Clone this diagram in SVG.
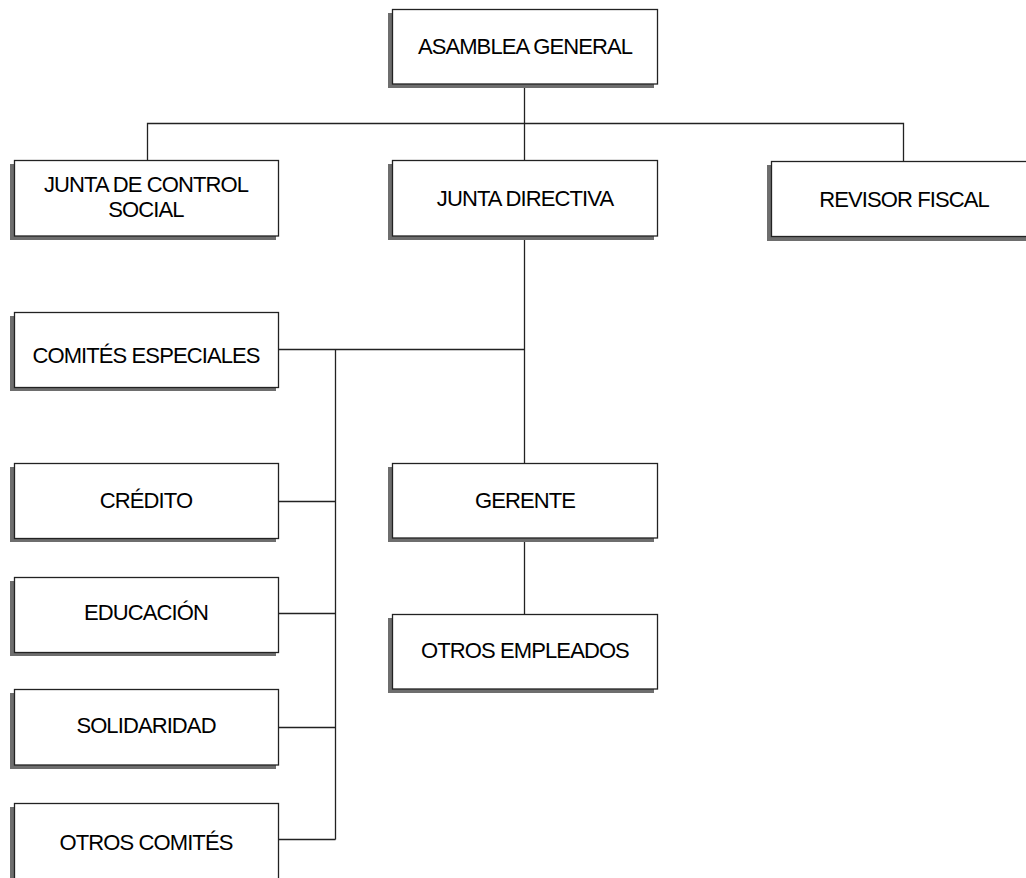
<svg xmlns="http://www.w3.org/2000/svg" width="1026" height="878" viewBox="0 0 1026 878">
<defs>
<style>
.sh{fill:#6e6e6e;}
.bx{fill:#fff;stroke:#222;stroke-width:1.3;}
.t{font-family:"Liberation Sans",Arial,sans-serif;font-size:22px;letter-spacing:-0.9px;fill:#000;text-anchor:middle;}
.c{fill:none;stroke:#222;stroke-width:1.3;}
</style>
</defs>
<rect width="1026" height="878" fill="#fff"/>
<g id="connectors">
<path class="c" d="M524.5,84 V160"/>
<path class="c" d="M147.5,160 V123.5 H903.5 V161"/>
<path class="c" d="M524.5,236 V463"/>
<path class="c" d="M278,349.5 H524.5"/>
<path class="c" d="M335.5,349.5 V839.5"/>
<path class="c" d="M278,501.5 H335.5"/>
<path class="c" d="M278,613.5 H335.5"/>
<path class="c" d="M278,727.5 H335.5"/>
<path class="c" d="M278,839.5 H335.5"/>
<path class="c" d="M524.5,538 V614"/>
</g>
<g id="asamblea">
<rect class="sh" x="388" y="13" width="266" height="75"/>
<rect class="bx" x="392.5" y="9.5" width="265" height="74.5"/>
<text class="t" x="525" y="54">ASAMBLEA GENERAL</text>
</g>
<g id="junta-control">
<rect class="sh" x="10" y="164" width="266" height="76"/>
<rect class="bx" x="14.5" y="160.5" width="264" height="75.5"/>
<text class="t" x="146" y="192">JUNTA DE CONTROL</text>
<text class="t" x="146" y="217">SOCIAL</text>
</g>
<g id="junta-directiva">
<rect class="sh" x="388" y="164" width="266" height="76"/>
<rect class="bx" x="392.5" y="160.5" width="265" height="75.5"/>
<text class="t" x="525" y="206">JUNTA DIRECTIVA</text>
</g>
<g id="revisor">
<rect class="sh" x="767" y="165" width="270" height="76"/>
<rect class="bx" x="771.5" y="161.5" width="266" height="75"/>
<text class="t" x="904" y="207">REVISOR FISCAL</text>
</g>
<g id="comites">
<rect class="sh" x="10" y="316" width="266" height="75"/>
<rect class="bx" x="14.5" y="312.5" width="264" height="75"/>
<text class="t" x="146" y="363">COMITÉS ESPECIALES</text>
</g>
<g id="credito">
<rect class="sh" x="10" y="467" width="266" height="75"/>
<rect class="bx" x="14.5" y="463.5" width="264" height="75"/>
<text class="t" x="146" y="508">CRÉDITO</text>
</g>
<g id="educacion">
<rect class="sh" x="10" y="581" width="266" height="75"/>
<rect class="bx" x="14.5" y="577.5" width="264" height="75"/>
<text class="t" x="146" y="620">EDUCACIÓN</text>
</g>
<g id="solidaridad">
<rect class="sh" x="10" y="693" width="266" height="76"/>
<rect class="bx" x="14.5" y="689.5" width="264" height="75.5"/>
<text class="t" x="146" y="733">SOLIDARIDAD</text>
</g>
<g id="otros-comites">
<rect class="sh" x="10" y="807" width="266" height="80"/>
<rect class="bx" x="14.5" y="803.5" width="264" height="80"/>
<text class="t" x="146" y="850">OTROS COMITÉS</text>
</g>
<g id="gerente">
<rect class="sh" x="388" y="467" width="266" height="75"/>
<rect class="bx" x="392.5" y="463.5" width="265" height="74.5"/>
<text class="t" x="525" y="508">GERENTE</text>
</g>
<g id="otros-empleados">
<rect class="sh" x="388" y="618" width="266" height="75"/>
<rect class="bx" x="392.5" y="614.5" width="265" height="74.5"/>
<text class="t" x="525" y="658">OTROS EMPLEADOS</text>
</g>
</svg>
